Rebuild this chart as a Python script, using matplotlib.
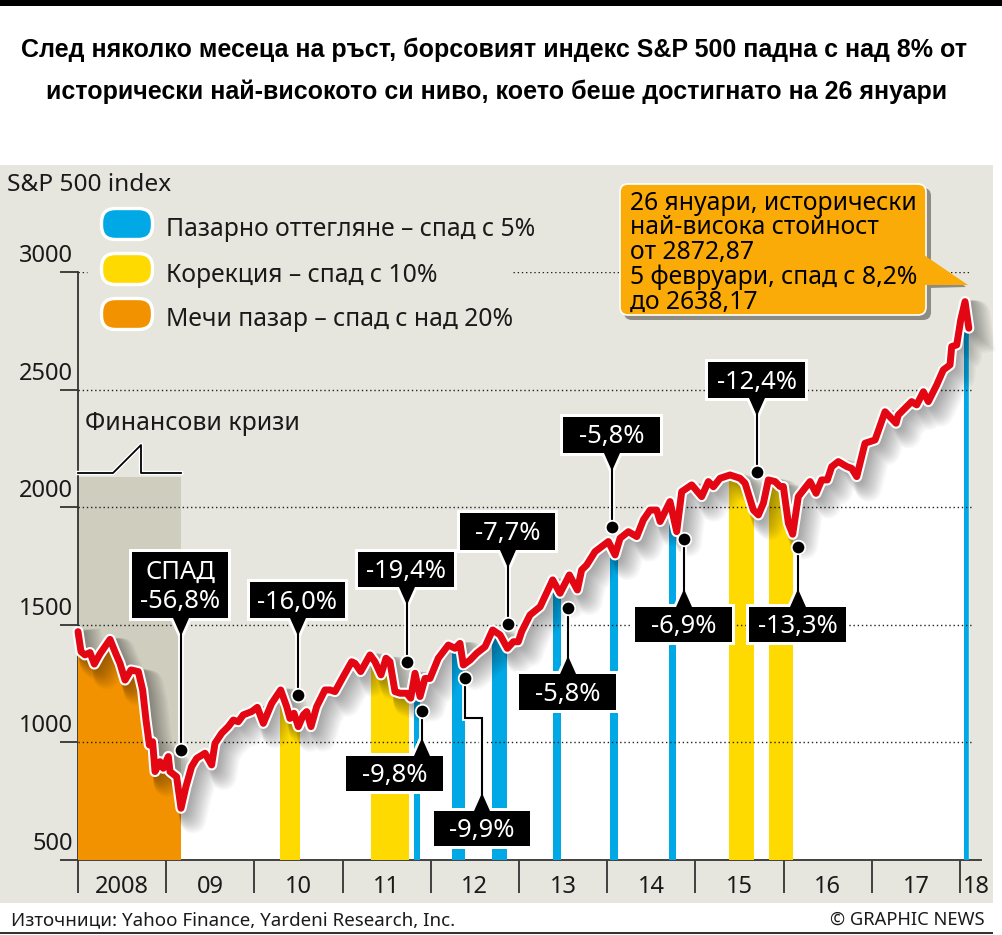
import matplotlib
matplotlib.use("Agg")
import matplotlib.pyplot as plt
import numpy as np
from matplotlib.patches import Rectangle, FancyBboxPatch, Polygon
from matplotlib.path import Path
from matplotlib.transforms import Affine2D, ScaledTranslation

plt.rcParams['font.family'] = ['Noto Sans', 'DejaVu Sans']

W, H = 1003, 935

# S&P 500
years = [2008.0, 2008.034, 2008.079, 2008.136, 2008.185, 2008.249, 2008.363, 2008.419, 2008.476, 2008.533,
         2008.601, 2008.684, 2008.733, 2008.771, 2008.809, 2008.846, 2008.873, 2008.93, 2008.967, 2009.024,
         2009.043, 2009.118, 2009.168, 2009.224, 2009.288, 2009.345, 2009.44, 2009.515, 2009.553, 2009.629,
         2009.704, 2009.761, 2009.817, 2009.874, 2009.969, 2010.033, 2010.101, 2010.196, 2010.298, 2010.366,
         2010.403, 2010.449, 2010.498, 2010.555, 2010.593, 2010.642, 2010.706, 2010.8, 2010.857, 2010.914,
         2011.008, 2011.103, 2011.141, 2011.205, 2011.311, 2011.367, 2011.435, 2011.492, 2011.537, 2011.594,
         2011.651, 2011.726, 2011.772, 2011.821, 2011.878, 2011.934, 2011.991, 2012.085, 2012.199, 2012.274,
         2012.331, 2012.369, 2012.445, 2012.52, 2012.615, 2012.701, 2012.785, 2012.868, 2012.936, 2012.992,
         2013.03, 2013.125, 2013.24, 2013.382, 2013.465, 2013.571, 2013.662, 2013.71, 2013.767, 2013.862,
         2014.013, 2014.089, 2014.146, 2014.24, 2014.335, 2014.41, 2014.486, 2014.561, 2014.6, 2014.712,
         2014.788, 2014.845, 2014.958, 2015.071, 2015.147, 2015.204, 2015.28, 2015.393, 2015.506, 2015.563,
         2015.657, 2015.714, 2015.771, 2015.827, 2015.903, 2015.96, 2015.997, 2016.054, 2016.103, 2016.167,
         2016.3, 2016.368, 2016.432, 2016.496, 2016.545, 2016.62, 2016.715, 2016.772, 2016.829, 2016.923,
         2017.037, 2017.15, 2017.275, 2017.3, 2017.452, 2017.509, 2017.585, 2017.641, 2017.736, 2017.811,
         2017.887, 2017.906, 2017.963, 2018.008, 2018.057, 2018.1]
values = [1471, 1386, 1372, 1382, 1333, 1376, 1438, 1386, 1336, 1265,
          1308, 1301, 1223, 1095, 989, 1003, 876, 918, 890, 940,
          876, 854, 720, 812, 897, 932, 954, 904, 996, 1039,
          1067, 1095, 1088, 1117, 1131, 1149, 1081, 1166, 1223, 1152,
          1102, 1124, 1067, 1117, 1131, 1067, 1152, 1223, 1223, 1216,
          1280, 1343, 1336, 1301, 1372, 1343, 1287, 1358, 1343, 1216,
          1209, 1209, 1188, 1294, 1195, 1272, 1272, 1358, 1414, 1400,
          1421, 1329, 1350, 1379, 1407, 1478, 1457, 1400, 1428, 1428,
          1471, 1542, 1577, 1691, 1634, 1712, 1648, 1733, 1754, 1811,
          1854, 1797, 1868, 1896, 1875, 1946, 1988, 1988, 1939, 2024,
          1896, 2066, 2095, 2045, 2109, 2087, 2123, 2137, 2123, 2102,
          1988, 1967, 2017, 2116, 2109, 2088, 2088, 1932, 1885, 2045,
          2109, 2059, 2116, 2116, 2172, 2194, 2173, 2165, 2130, 2272,
          2286, 2406, 2357, 2392, 2449, 2435, 2491, 2449, 2520, 2584,
          2605, 2683, 2690, 2796, 2874, 2761]

# market drops as (start, end) in years
pullback_spans = [(2011.81, 2011.883), (2012.238, 2012.387), (2012.69, 2012.864), (2013.385, 2013.48),
                  (2014.03, 2014.126), (2014.705, 2014.78), (2018.05, 2018.10)]
correction_spans = [(2010.29, 2010.52), (2011.32, 2011.755), (2015.38, 2015.668), (2015.835, 2016.107)]
bear_spans = [(2008.0, 2009.168)]

y_ticks = [500, 1000, 1500, 2000, 2500, 3000]
x_edges = [2008, 2009, 2010, 2011, 2012, 2013, 2014, 2015, 2016, 2017, 2018]
year_labels = ['2008', '09', '10', '11', '12', '13', '14', '15', '16', '17', '18']

drop_labels = ['СПАД\n-56,8%', '-16,0%', '-19,4%', '-7,7%', '-9,8%', '-9,9%',
               '-5,8%', '-5,8%', '-6,9%', '-12,4%', '-13,3%']
drop_years = [2009.168, 2010.494, 2011.73, 2012.875, 2011.90, 2012.388,
              2013.556, 2014.054, 2014.871, 2015.698, 2016.163]
drop_values = [968, 1202, 1342, 1503, 1134, 1274, 1571, 1916, 1865, 2150, 1831]

legend_labels = ['Пазарно оттегляне – спад с 5%', 'Корекция – спад с 10%', 'Мечи пазар – спад с над 20%']

BLUE = '#00A9E6'
YELLOW = '#FFDA00'
ORANGE = '#F39200'
RED = '#E30613'
PANEL = '#E6E6DE'
INK = '#1a1a1a'

fig = plt.figure(figsize=(W / 100, H / 100), dpi=100, facecolor='white')
# pixel coordinates of the picture, y going down, for the decoration
px = Affine2D().scale(1, -1).translate(0, H)

fig.add_artist(Rectangle((0, 0), W, 6, transform=px, fc='black', ec='none', zorder=-1))
fig.add_artist(Rectangle((0, 165), 993, 738, transform=px, fc=PANEL, ec='none', zorder=-1))
fig.add_artist(Rectangle((0, 932), 993, 2, transform=px, fc='#333333', ec='none', zorder=-1))

fig.text(494, 50, 'След няколко месеца на ръст, борсовият индекс S&P 500 падна с над 8% от', transform=px,
         family=['Liberation Sans', 'DejaVu Sans'], weight='bold', fontsize=18, ha='center', va='center', color='black')
fig.text(497, 92, 'исторически най-високото си ниво, което беше достигнато на 26 януари', transform=px,
         family=['Liberation Sans', 'DejaVu Sans'], weight='bold', fontsize=18, ha='center', va='center', color='black')
fig.text(11, 920, 'Източници: Yahoo Finance, Yardeni Research, Inc.', transform=px, fontsize=13.5, ha='left', va='center', color=INK)
fig.text(985, 920, '© GRAPHIC NEWS', transform=px, fontsize=13.2, ha='right', va='center', color=INK)
fig.text(7, 185, 'S&P 500 index', transform=px, fontsize=17.6, ha='left', va='center', color=INK)

ax = fig.add_axes([78 / W, 75 / H, 903 / W, 588 / H], facecolor='none')
ax.set_xlim(2008, 2008 + 903 / 88.2)
ax.set_ylim(500, 3000)

for side in ['top', 'right']:
    ax.spines[side].set_visible(False)
for side in ['left', 'bottom']:
    ax.spines[side].set_color('#333333')
    ax.spines[side].set_linewidth(1.3)

ax.set_yticks(y_ticks)
ax.tick_params(axis='y', length=13, width=1.3, color='#333333', labelsize=17, labelcolor=INK, pad=-2)
for lab in ax.get_yticklabels():
    lab.set_verticalalignment('center')
    # the numbers sit above their tick
    lab.set_transform(lab.get_transform() + Affine2D().translate(10, 16))

ax.set_xticks(x_edges, [''] * len(x_edges))
ax.tick_params(axis='x', which='major', length=24, width=1.3, color='#333333')
centers = [(a + b) / 2 for a, b in zip(x_edges[:-1], x_edges[1:])] + [2018.19]
ax.set_xticks(centers, year_labels, minor=True)
ax.tick_params(axis='x', which='minor', length=0, labelsize=17, labelcolor=INK, pad=10.5)

# grey band of the crisis, white area below the curve
ax.fill_between([2008, 2009.168], 500, 2130, color='#CFCDBE', lw=0, zorder=1)
area = ax.fill_between(years, values, 500, color='white', lw=0, zorder=2)
clip = Path(area.get_paths()[0].vertices, area.get_paths()[0].codes)
for spans, col in [(pullback_spans, BLUE), (correction_spans, YELLOW), (bear_spans, ORANGE)]:
    for a, b in spans:
        bar = ax.bar(a, 3000 - 500, width=b - a, bottom=500, align='edge', color=col, lw=0, zorder=3)[0]
        bar.set_clip_path(clip, ax.transData)

for level in y_ticks[1:-1]:
    ax.hlines(level, 2008, 2018.13, color='#222222', lw=1, linestyle=(0, (1, 2)), zorder=4)
ax.hlines(3000, 2008, 2008.1, color='#222222', lw=1, linestyle=(0, (1, 2)), zorder=4)
ax.hlines(3000, 2012.93, 2018.13, color='#222222', lw=1, linestyle=(0, (1, 2)), zorder=4)

# soft shadow to the lower right of the curve
for i in range(1, 17):
    shift = ScaledTranslation(i * 0.75, -i * 0.75, Affine2D())
    ax.plot(years, values, color='black', alpha=0.028, lw=3 + i * 1.0, solid_joinstyle='round',
            transform=ax.transData + shift, clip_on=False, zorder=5)
ax.plot(years, values, color='white', lw=8, solid_joinstyle='round', solid_capstyle='round', clip_on=False, zorder=6)
ax.plot(years, values, color=RED, lw=5, solid_joinstyle='round', solid_capstyle='round', clip_on=False, zorder=7)

# legend pills and text
for y, col, label in zip([224, 269, 314], [BLUE, YELLOW, ORANGE], legend_labels):
    pill = FancyBboxPatch((116, y - 1), 22, 2, boxstyle='round,pad=14.5,rounding_size=14', transform=px,
                          fc=col, ec='white', lw=2.4, zorder=9, clip_on=False)
    ax.add_artist(pill)
    ax.text(166, y + 6, label, transform=px, fontsize=17.8, ha='left', va='center', color=INK, zorder=10)

# financial crisis marker
ax.text(85, 424, 'Финансови кризи', transform=px, fontsize=17.9, ha='left', va='center', color=INK, zorder=10)
crisis_x = [78, 113, 141, 141, 181]
crisis_y = [473, 473, 445, 473, 473]
ax.plot(crisis_x, crisis_y, transform=px, color='white', lw=3.2, clip_on=False, zorder=8)
ax.plot(crisis_x, crisis_y, transform=px, color='black', lw=1.3, clip_on=False, zorder=8)

# box left, top, right, bottom of every callout in pixels, same order as drop_labels
boxes = [(132, 552, 228, 618), (250, 582, 345, 618), (358, 552, 454, 587), (460, 513, 555, 550),
         (346, 756, 443, 791), (434, 811, 530, 846), (519, 674, 616, 710), (563, 417, 660, 453),
         (635, 607, 732, 642), (708, 362, 805, 398), (749, 607, 846, 642)]


def draw_callout(label, year, value, box):
    x0, y0, x1, y1 = box
    dx, dy = ax.transData.transform((year, value))
    dy = H - dy
    above = y1 < dy
    # the -9,9% stem goes round the corner
    if label == '-9,9%':
        tip_x = 482
        sx = [dx, dx, tip_x, tip_x]
        sy = [dy, 718, 718, y0]
    else:
        tip_x = dx
        sx = [dx, dx]
        sy = [dy, y1 if above else y0]
    edge = y1 if above else y0
    tip = edge + 18 if above else edge - 18
    tri = [(tip_x - 8, edge), (tip_x + 8, edge), (tip_x, tip)]
    ax.plot(sx, sy, transform=px, color='white', lw=4.2, clip_on=False, zorder=11, solid_joinstyle='miter')
    ax.add_artist(Polygon(tri, closed=True, transform=px, fc='white', ec='white', lw=4, zorder=11, clip_on=False))
    ax.add_artist(Rectangle((x0 - 3, y0 - 3), x1 - x0 + 6, y1 - y0 + 6, transform=px, fc='white', ec='none', zorder=11, clip_on=False))
    ax.plot(sx, sy, transform=px, color='black', lw=1.5, clip_on=False, zorder=12, solid_joinstyle='miter')
    ax.add_artist(Polygon(tri, closed=True, transform=px, fc='black', ec='none', zorder=12, clip_on=False))
    ax.add_artist(Rectangle((x0, y0), x1 - x0, y1 - y0, transform=px, fc='black', ec='none', zorder=12, clip_on=False))
    ax.text((x0 + x1) / 2, (y0 + y1) / 2 + 2, label, transform=px, color='white', fontsize=18.4, ha='center',
            va='center', linespacing=1.2, zorder=13)
    ax.scatter([year], [value], s=95, color='black', edgecolors='white', linewidths=1.3, clip_on=False, zorder=14)


for label, year, value, box in zip(drop_labels, drop_years, drop_values, boxes):
    draw_callout(label, year, value, box)

# orange note with the record value
note_style = dict(boxstyle='round,pad=0,rounding_size=8', transform=px, clip_on=False)
ax.add_artist(FancyBboxPatch((624, 188), 307, 132, fc='#8C8C84', ec='none', zorder=15, **note_style))
ax.add_artist(Polygon([(928, 258), (966, 287), (928, 288)], closed=True, transform=px, fc='#8C8C84', ec='none', zorder=15, clip_on=False))
ax.add_artist(FancyBboxPatch((620, 184), 306, 131, fc='#FBAB07', ec='white', lw=1.2, zorder=16, **note_style))
ax.add_artist(Polygon([(924, 255), (968, 285), (924, 285)], closed=True, transform=px, fc='#FBAB07', ec='none', zorder=16, clip_on=False))
note_lines = ['26 януари, исторически', 'най-висока стойност', 'от 2872,87', '5 февруари, спад с 8,2%', 'до 2638,17']
for i, line in enumerate(note_lines):
    ax.text(630, 203 + i * 24.9, line, transform=px, fontsize=17.8, ha='left', va='center', color='black', zorder=17)

fig.savefig('out.png', dpi=100)
